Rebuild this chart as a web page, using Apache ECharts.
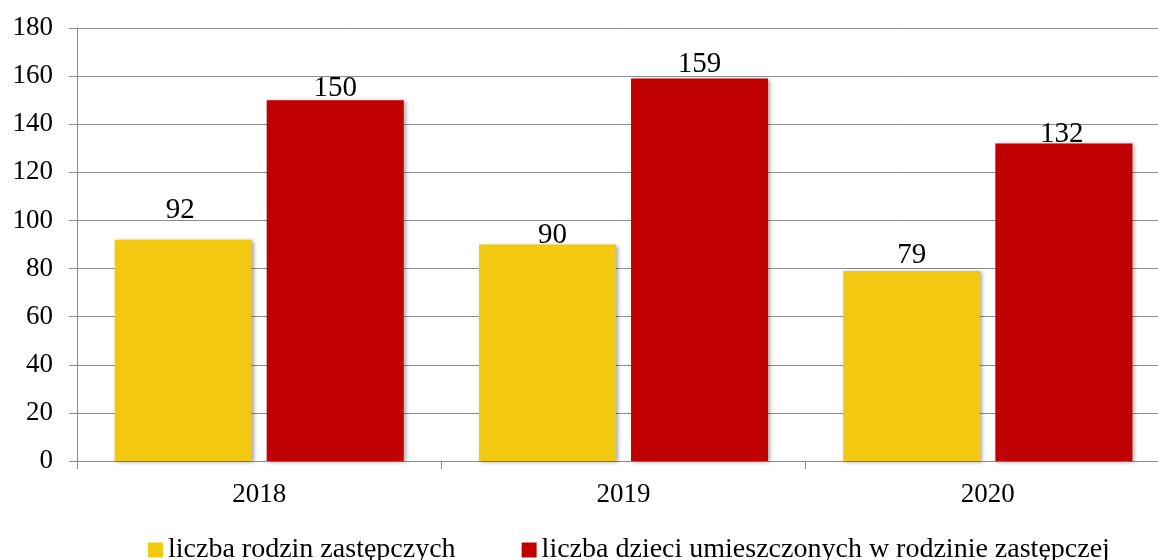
<!DOCTYPE html>
<html>
<head>
<meta charset="utf-8">
<script src="https://cdn.jsdelivr.net/npm/echarts@6/dist/echarts.min.js"></script>
<style>
  html, body { margin: 0; padding: 0; background: #fff; overflow: hidden; }
  #chart { width: 1170px; height: 560px; }
</style>
</head>
<body>
<div id="chart"></div>
<script>
// Categories and series values
const years = ['2018', '2019', '2020'];
const rodziny = [92, 90, 79];
const dzieci = [150, 159, 132];
const seriesNames = ['liczba rodzin zastępczych', 'liczba dzieci umieszczonych w rodzinie zastępczej'];

// Fine placement of the value labels above each bar [dx, dy]
const shiftRodziny = [[-3, -11], [5, 9], [0, 3]];
const shiftDzieci = [[0, 7], [0, 4], [-2, 9]];

const FONT = 'Liberation Serif';
const GRID = '#8c8c8c';

function withLabels(values, shifts) {
  return values.map((v, i) => ({
    value: v,
    label: { offset: shifts[i] }
  }));
}

const barShadow = {
  shadowBlur: 4,
  shadowOffsetX: 2,
  shadowOffsetY: 1,
  shadowColor: 'rgba(0,0,0,0.35)'
};

const labelStyle = {
  show: true,
  position: 'top',
  distance: 4,
  color: '#000',
  fontFamily: FONT,
  fontSize: 29
};

const chart = echarts.init(document.getElementById('chart'), null, { renderer: 'canvas' });
chart.setOption({
  animation: false,
  backgroundColor: '#fff',
  grid: { left: 77, top: 28, bottom: 99, right: 0, containLabel: false },
  xAxis: {
    type: 'category',
    data: years,
    boundaryGap: true,
    axisLine: { show: true, lineStyle: { color: GRID, width: 1 } },
    axisTick: { show: true, length: 8, alignWithLabel: false, lineStyle: { color: GRID } },
    axisLabel: { color: '#000', fontFamily: FONT, fontSize: 27, margin: 20 }
  },
  yAxis: {
    type: 'value',
    min: 0,
    max: 180,
    interval: 20,
    axisLine: { show: true, lineStyle: { color: GRID, width: 1 } },
    axisTick: { show: true, length: 8, lineStyle: { color: GRID } },
    splitLine: { show: true, lineStyle: { color: GRID, width: 1 } },
    axisLabel: { color: '#000', fontFamily: FONT, fontSize: 27, margin: 24 }
  },
  legend: {
    bottom: -9,
    left: 143,
    itemWidth: 15,
    itemHeight: 15,
    itemGap: 66,
    icon: 'rect',
    textStyle: { color: '#000', fontFamily: FONT, fontSize: 28, padding: [0, 0, 0, 0] },
    data: seriesNames
  },
  series: [
    {
      name: seriesNames[0],
      type: 'bar',
      data: withLabels(rodziny, shiftRodziny),
      barWidth: 137,
      barGap: '11%',
      itemStyle: Object.assign({ color: '#F2C811' }, barShadow),
      label: labelStyle
    },
    {
      name: seriesNames[1],
      type: 'bar',
      data: withLabels(dzieci, shiftDzieci),
      barWidth: 137,
      barGap: '11%',
      itemStyle: Object.assign({ color: '#C00000' }, barShadow),
      label: labelStyle
    }
  ]
});
</script>
</body>
</html>
